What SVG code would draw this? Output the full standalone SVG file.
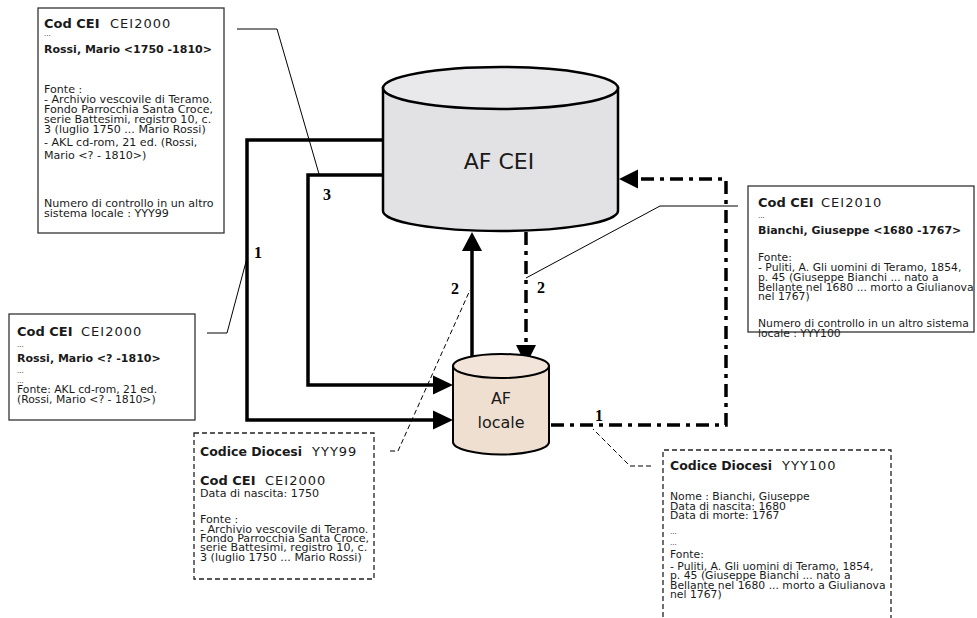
<svg xmlns="http://www.w3.org/2000/svg" width="977" height="618" viewBox="0 0 977 618">
<defs>
<style>
text{font-family:"DejaVu Sans","Liberation Sans",sans-serif;fill:#1a1a1a}
.box{fill:#fff;stroke:#333;stroke-width:1.3}
.dbox{fill:#fff;stroke:#222;stroke-width:1.3;stroke-dasharray:5,3}
.h{font-size:13px;font-weight:bold}
.c{font-size:13px;letter-spacing:1px}
.hd{font-size:12.5px;font-weight:bold}
.n{font-size:11px;font-weight:bold}
.b{font-size:11.1px}
.s{font-size:10.8px}
.d{font-size:7px}
.lbl{font-family:"Liberation Serif","Times New Roman",serif;font-size:16px;font-weight:bold;fill:#000}
.thick{fill:none;stroke:#000;stroke-width:3.5}
.dd{fill:none;stroke:#000;stroke-width:3.5;stroke-dasharray:13,6,4,6}
.thin{fill:none;stroke:#000;stroke-width:1}
.thind{fill:none;stroke:#000;stroke-width:1;stroke-dasharray:5,3}
.ah{fill:#000}
</style>
</defs>

<g id="connectors">
  <path class="thick" d="M383,140 H247 V420 H436"/>
  <polygon class="ah" points="453,420 433,410.5 433,429.5"/>
  <path class="thick" d="M383,175 H308 V385 H436"/>
  <polygon class="ah" points="453,385 433,375.5 433,394.5"/>
  <path class="thick" d="M472,365 V248"/>
  <polygon class="ah" points="472,232 462,251 482,251"/>
  <path class="dd" d="M526,232 V347"/>
  <polygon class="ah" points="526,365 516,345 536,345"/>
  <path class="dd" d="M551,425 H726 V179 H637"/>
  <polygon class="ah" points="619,179 638,169.5 638,188.5"/>
  <path class="thin" d="M237,29 H277 L319,174"/>
  <path class="thin" d="M207,333 H227 L247,258"/>
  <path class="thin" d="M738,206 H660 L526,278"/>
  <path class="thind" d="M390,451 H398 L470,290"/>
  <path class="thind" d="M651,466 H630 L593,429"/>
  <text class="lbl" x="327" y="200" text-anchor="middle">3</text>
  <text class="lbl" x="258" y="258" text-anchor="middle">1</text>
  <text class="lbl" x="455" y="294" text-anchor="middle">2</text>
  <text class="lbl" x="541" y="293" text-anchor="middle">2</text>
  <text class="lbl" x="599" y="421" text-anchor="middle">1</text>
</g>

<g id="af-cei">
  <path d="M383,88 V211 A117.5,20 0 0 0 618,211 V88 Z" fill="#e2e2e4" stroke="#000" stroke-width="2.5"/>
  <ellipse cx="500.5" cy="88" rx="117.5" ry="21" fill="#e9e9eb" stroke="#000" stroke-width="2.5"/>
  <text x="499" y="169" text-anchor="middle" style="font-size:22px">AF CEI</text>
</g>

<g id="af-locale">
  <path d="M453,366 V442 A48,12.5 0 0 0 549,442 V366 Z" fill="#efdfd1" stroke="#000" stroke-width="2"/>
  <ellipse cx="501" cy="366" rx="48" ry="12" fill="#f2e4d8" stroke="#000" stroke-width="2"/>
  <text x="501" y="404" text-anchor="middle" style="font-size:16px">AF</text>
  <text x="501" y="428" text-anchor="middle" style="font-size:16px">locale</text>
</g>

<g id="box-cei2000-full">
  <rect class="box" x="38" y="8" width="186" height="225"/>
  <text class="h" x="44" y="28">Cod CEI</text>
  <text class="c" x="110" y="28">CEI2000</text>
  <text class="d" x="44" y="36">...</text>
  <text class="n" x="44" y="53">Rossi, Mario &lt;1750 -1810&gt;</text>
  <text class="b" x="44" y="93">Fonte :</text>
  <text class="b" x="44" y="103">- Archivio vescovile di Teramo.</text>
  <text class="b" x="44" y="113">Fondo Parrocchia Santa Croce,</text>
  <text class="b" x="44" y="123">serie Battesimi, registro 10, c.</text>
  <text class="b" x="44" y="133">3 (luglio 1750 ... Mario Rossi)</text>
  <text class="b" x="44" y="146">- AKL cd-rom, 21 ed. (Rossi,</text>
  <text class="b" x="44" y="159">Mario &lt;? - 1810&gt;)</text>
  <text class="b" x="44" y="207">Numero di controllo in un altro</text>
  <text class="b" x="44" y="217">sistema locale : YYY99</text>
</g>

<g id="box-cei2000-short">
  <rect class="box" x="9" y="314" width="186" height="106"/>
  <text class="h" x="17" y="336">Cod CEI</text>
  <text class="c" x="81" y="336">CEI2000</text>
  <text class="d" x="17" y="347">...</text>
  <text class="n" x="17" y="362">Rossi, Mario &lt;? -1810&gt;</text>
  <text class="d" x="17" y="373">...</text>
  <text class="d" x="17" y="383">...</text>
  <text class="s" x="17" y="393">Fonte: AKL cd-rom, 21 ed.</text>
  <text class="s" x="17" y="402.5">(Rossi, Mario &lt;? - 1810&gt;)</text>
</g>

<g id="box-cei2010">
  <rect class="box" x="748" y="186" width="226" height="146"/>
  <text class="h" x="758" y="207">Cod CEI</text>
  <text class="c" x="821" y="207">CEI2010</text>
  <text class="d" x="758" y="218">...</text>
  <text class="n" x="758" y="234">Bianchi, Giuseppe &lt;1680 -1767&gt;</text>
  <text class="s" x="758" y="261">Fonte:</text>
  <text class="s" x="758" y="271">- Puliti, A. Gli uomini di Teramo, 1854,</text>
  <text class="s" x="758" y="281">p. 45 (Giuseppe Bianchi ... nato a</text>
  <text class="s" x="758" y="290.5">Bellante nel 1680 ... morto a Giulianova</text>
  <text class="s" x="758" y="300">nel 1767)</text>
  <text class="s" x="758" y="327">Numero di controllo in un altro sistema</text>
  <text class="s" x="758" y="337">locale : YYY100</text>
</g>

<g id="box-diocesi-yyy99">
  <rect class="dbox" x="194" y="433" width="180" height="146"/>
  <text class="hd" x="200" y="456">Codice Diocesi</text>
  <text class="c" x="312" y="456">YYY99</text>
  <text class="h" x="200" y="485">Cod CEI</text>
  <text class="c" x="265" y="485">CEI2000</text>
  <text class="b" x="200" y="497">Data di nascita: 1750</text>
  <text class="b" x="200" y="523">Fonte :</text>
  <text class="b" x="200" y="532.5">- Archivio vescovile di Teramo.</text>
  <text class="b" x="200" y="542">Fondo Parrocchia Santa Croce,</text>
  <text class="b" x="200" y="551">serie Battesimi, registro 10, c.</text>
  <text class="b" x="200" y="560.5">3 (luglio 1750 ... Mario Rossi)</text>
</g>

<g id="box-diocesi-yyy100">
  <path class="dbox" d="M663,625 V450 H891 V625"/>
  <text class="hd" x="670" y="470">Codice Diocesi</text>
  <text class="c" x="782" y="470">YYY100</text>
  <text class="s" x="670" y="500">Nome : Bianchi, Giuseppe</text>
  <text class="s" x="670" y="509.5">Data di nascita: 1680</text>
  <text class="s" x="670" y="518.5">Data di morte: 1767</text>
  <text class="d" x="670" y="534">...</text>
  <text class="d" x="670" y="545">...</text>
  <text class="s" x="670" y="558">Fonte:</text>
  <text class="s" x="670" y="570">- Puliti, A. Gli uomini di Teramo, 1854,</text>
  <text class="s" x="670" y="579">p. 45 (Giuseppe Bianchi ... nato a</text>
  <text class="s" x="670" y="588.5">Bellante nel 1680 ... morto a Giulianova</text>
  <text class="s" x="670" y="598">nel 1767)</text>
</g>
</svg>
